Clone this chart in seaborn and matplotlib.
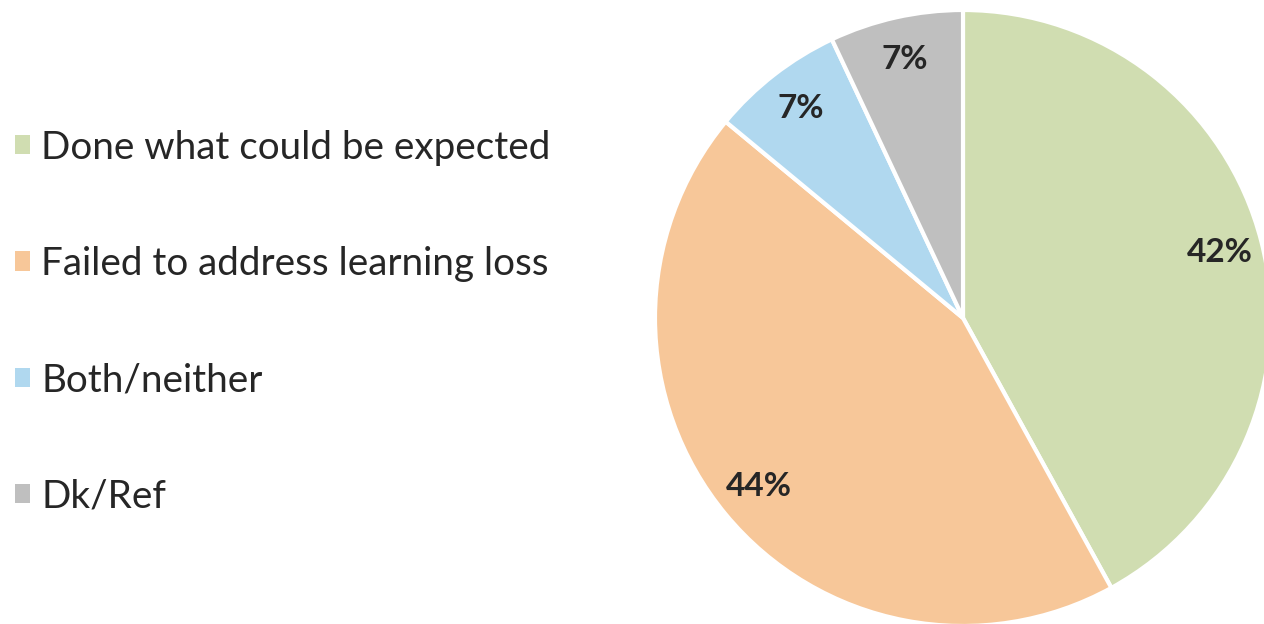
import matplotlib
matplotlib.use("Agg")
import matplotlib.pyplot as plt
import seaborn as sns

categories = ["Done what could be expected", "Failed to address learning loss", "Both/neither", "Dk/Ref"]
values = [42, 44, 7, 7]
colors = ["#d0ddb1", "#f7c799", "#b0d8ef", "#bfbfbf"]

sns.set_theme(style="white")
plt.rcParams["font.family"] = ["Lato", "DejaVu Sans"]
palette = sns.color_palette(colors)

W, H = 1264, 624
fig = plt.figure(figsize=(W / 100, H / 100), dpi=100)
cx, cy, r = 963, 318, 308
ax = fig.add_axes([(cx - r) / W, (H - cy - r) / H, 2 * r / W, 2 * r / H])
wedges, texts, autotexts = ax.pie(
    values, colors=palette, startangle=90, counterclock=False,
    autopct="%d%%", pctdistance=0.86,
    wedgeprops=dict(edgecolor="white", linewidth=3),
    textprops=dict(color="#262626", fontsize=24, fontweight="bold"),
)
for w in wedges:
    w.set_clip_on(False)
ax.set_xlim(-1, 1)
ax.set_ylim(-1, 1)
ax.set_aspect("auto")
ax.axis("off")

leg = fig.legend(
    wedges, categories, loc="center left",
    bbox_to_anchor=(15 / W, (H - 322) / H),
    frameon=False, fontsize=27.8, labelspacing=2.08,
    handlelength=0.4, handleheight=0.4, handletextpad=0.28,
    borderpad=0, borderaxespad=0,
)
for t in leg.get_texts():
    t.set_color("#262626")
for h in leg.legend_handles:
    h.set_linewidth(0)

fig.savefig("out.png", dpi=100)
